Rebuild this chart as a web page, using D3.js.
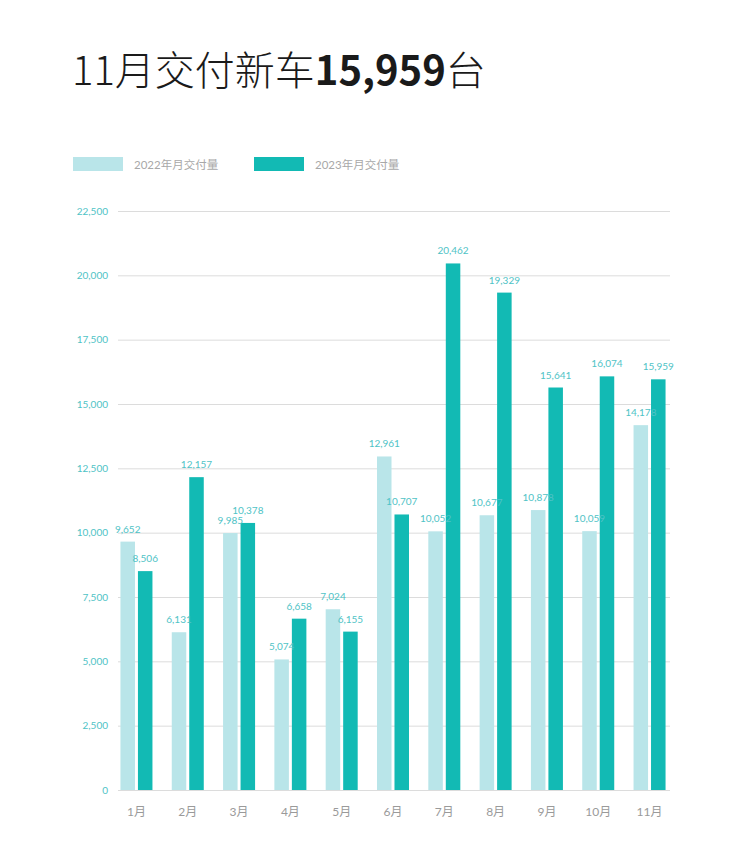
<!DOCTYPE html>
<html><head><meta charset="utf-8">
<script src="https://cdn.jsdelivr.net/npm/d3@7"></script>
<style>body{margin:0;background:#fff;}svg{display:block;}</style>
</head><body>
<svg id="c" width="744" height="843"></svg>
<script>
const months = ["1月","2月","3月","4月","5月","6月","7月","8月","9月","10月","11月"];
const series = ["2022年月交付量","2023年月交付量"];
const values2022 = [9652,6131,9985,5074,7024,12961,10052,10677,10878,10059,14178];
const values2023 = [8506,12157,10378,6658,6155,10707,20462,19329,15641,16074,15959];
const yTicks = [0,2500,5000,7500,10000,12500,15000,17500,20000,22500];
const colors = ["#b9e5e9","#12bab4"];

const svg = d3.select("#c");
const fmt = d3.format(",");
const cjk = "'Lato','Noto Sans CJK SC',sans-serif";

// title
const t = svg.append("text").attr("x",72).attr("y",85)
  .attr("font-family","'Noto Sans CJK SC','Noto Sans',sans-serif")
  .attr("font-size",40).attr("font-weight",300).attr("fill","#1a1a1a");
t.append("tspan").text("11月交付新车");
t.append("tspan").attr("font-weight","bold").text("15,959");
t.append("tspan").text("台");

// legend
const lx = [73,254];
series.forEach((s,i)=>{
  svg.append("rect").attr("x",lx[i]).attr("y",157).attr("width",50).attr("height",14).attr("fill",colors[i]);
  svg.append("text").attr("x",lx[i]+61).attr("y",165).attr("dy","0.35em")
    .attr("font-family",cjk).attr("font-size",11.5).attr("fill","#a8a8a8").text(s);
});

const y = d3.scaleLinear().domain([0,22500]).range([790,211]);
const x = d3.scaleBand().domain(months).range([110.8,675.2]).padding(0);
const xi = d3.scaleBand().domain(["2022","2023"]).range([0,32]).paddingInner(0.17);

// gridlines + y labels
const yAxis = d3.axisLeft(y).tickValues(yTicks).tickSize(0).tickFormat(fmt);
const gy = svg.append("g").attr("transform","translate(108,0)").call(yAxis);
gy.select(".domain").remove();
gy.selectAll("text").attr("x",0).attr("font-family","'Lato',sans-serif").attr("font-size",10).attr("fill","#4fc3c6");
svg.append("g").selectAll("line").data(yTicks).join("line")
  .attr("x1",118).attr("x2",670).attr("y1",d=>y(d)+0.5).attr("y2",d=>y(d)+0.5)
  .attr("stroke","#dcdcdc").attr("stroke-width",1);

// bars
const data = months.map((m,i)=>({m, v:[values2022[i],values2023[i]]}));
const groups = svg.append("g").selectAll("g").data(data).join("g")
  .attr("transform",d=>`translate(${x(d.m)+x.bandwidth()/2-16},0)`);
["2022","2023"].forEach((k,j)=>{
  groups.append("rect").attr("x",xi(k)).attr("width",xi.bandwidth())
    .attr("y",d=>y(d.v[j])).attr("height",d=>790-y(d.v[j])).attr("fill",colors[j]);
});
const labels = svg.append("g").selectAll("g").data(data).join("g")
  .attr("transform",d=>`translate(${x(d.m)+x.bandwidth()/2-16},0)`);
["2022","2023"].forEach((k,j)=>{
  labels.append("text").attr("x",xi(k)+xi.bandwidth()/2).attr("y",d=>y(d.v[j])-9)
    .attr("text-anchor","middle").attr("font-family","'Lato',sans-serif").attr("font-size",10)
    .attr("fill","#4fc3c6").text(d=>fmt(d.v[j]));
});

// x axis labels
const xAxis = d3.axisBottom(x).tickSize(0);
const gx = svg.append("g").attr("transform","translate(0,790)").call(xAxis);
gx.select(".domain").remove();
gx.selectAll("text").attr("y",22).attr("dy","0.35em").attr("font-family",cjk).attr("font-size",12).attr("fill","#9a9a9a");
</script>
</body></html>
